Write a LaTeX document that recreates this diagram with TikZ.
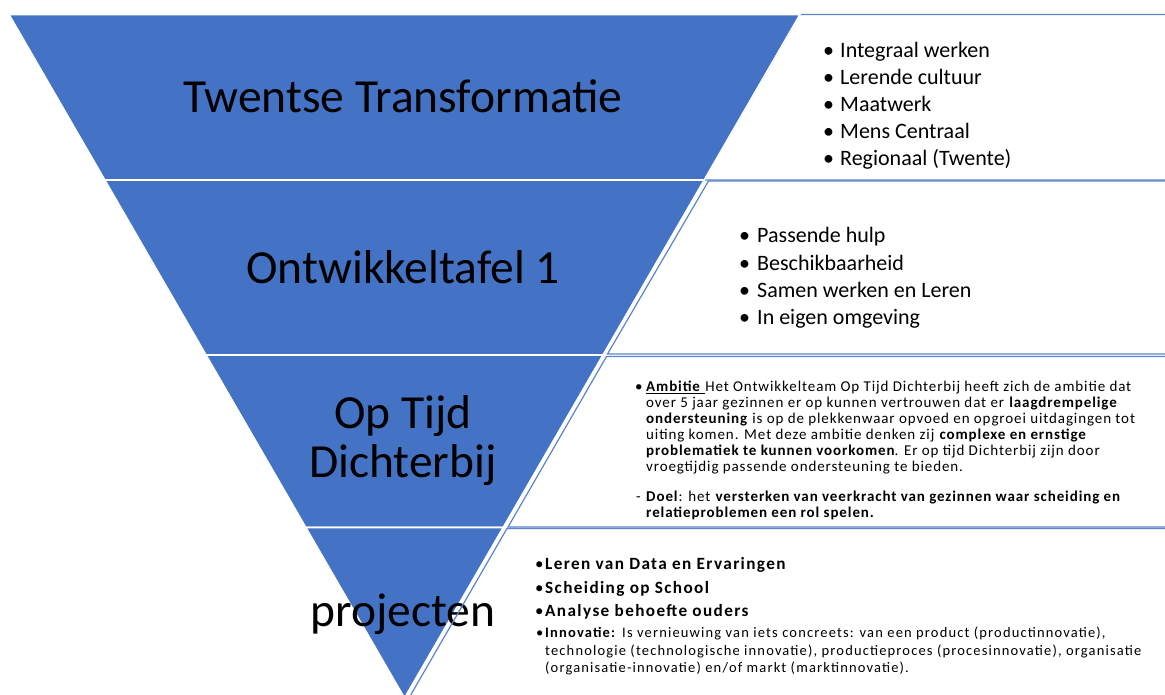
\documentclass[tikz,border=0pt]{standalone}
\usepackage{fontspec}
\setmainfont{Carlito}
\newfontfamily\spacedA[LetterSpace=6]{Carlito}
\newfontfamily\spacedB[LetterSpace=8]{Carlito}
\definecolor{pyrblue}{HTML}{4472C4}
\definecolor{boxblue}{HTML}{5B84CD}
\begin{document}
\begin{tikzpicture}[x=1pt,y=-1pt,
  band/.style={fill=pyrblue, draw=white, line width=1.6pt, line join=miter},
  panelfill/.style={fill=white, draw=none},
  panelline/.style={draw=boxblue, line width=1.2pt},
  biglabel/.style={anchor=base, inner sep=0pt, font=\fontsize{47.5}{49}\selectfont, text=black},
  itemA/.style={anchor=base west, inner sep=0pt, font=\fontsize{22}{27}\selectfont},
  itemC/.style={anchor=base west, inner sep=0pt, font=\spacedA\fontsize{15}{16}\selectfont},
  itemD/.style={anchor=base west, inner sep=0pt, font=\spacedB\fontsize{17.2}{20}\selectfont\bfseries},
  itemE/.style={anchor=base west, inner sep=0pt, font=\spacedB\fontsize{14.5}{17}\selectfont}
]
\useasboundingbox (0,0) rectangle (1165,695);
\clip (0,0) rectangle (1165,695);
\fill[white] (0,0) rectangle (1165,695);

% text panels (fill)
\path[panelfill] (800,14.5) -- (1175,14.5) -- (1175,180) -- (704,180) -- cycle;
\path[panelfill] (708.5,181) -- (1175,181) -- (1175,354) -- (607.5,354) -- cycle;
\path[panelfill] (606.5,356.5) -- (1175,356.5) -- (1175,527) -- (508,527) -- cycle;
\path[panelfill] (507,528.5) -- (1175,528.5) -- (1175,710) -- (402,710) -- cycle;
% first panel outline lies under the top band's edge
\draw[panelline] (800,14.5) -- (1175,14.5) -- (1175,180) -- (704,180) -- cycle;

% pyramid bands
\draw[band] (9,14.5) -- (800,14.5) -- (704.2,180) -- (104.8,180) -- cycle;
\draw[band] (104.8,180) -- (704.2,180) -- (603.0,355) -- (206.0,355) -- cycle;
\draw[band] (206.0,355) -- (603.0,355) -- (503.2,527.5) -- (305.8,527.5) -- cycle;
\draw[band] (305.8,527.5) -- (503.2,527.5) -- (404.5,698) -- cycle;

% band labels
\node[biglabel] (t1) at (403,112.5) {Twentse Transformatie};
\node[biglabel] (t2) at (403,283.5) {Ontwikkeltafel 1};
\node[biglabel] (t3a) at (403,428.5) {Op Tijd};
\node[biglabel] (t3b) at (403,477.5) {Dichterbij};
\node[biglabel] (t4) at (403,626.5) {projecten};

% panel outlines
\draw[panelline] (801,14.5) -- (1175,14.5);
\draw[panelline] (708.5,181) -- (1175,181) -- (1175,354) -- (607.5,354) -- cycle;
\draw[panelline] (606.5,356.5) -- (1175,356.5) -- (1175,527) -- (508,527) -- cycle;
\draw[panelline] (507,528.5) -- (1175,528.5) -- (1175,710) -- (402,710) -- cycle;

% panel 1
\foreach \t [count=\i] in {Integraal werken, Lerende cultuur, Maatwerk, Mens Centraal, Regionaal (Twente)}{
  \node[itemA] (pa\i) at (840,{57.5+27.1*(\i-1)}) {\t};
  \node[itemA] (ba\i) at (823,{57.5+27.1*(\i-1)}) {\textbullet};
}

% panel 2
\foreach \t [count=\i] in {Passende hulp, Beschikbaarheid, Samen werken en Leren, In eigen omgeving}{
  \node[itemA] (pb\i) at (757,{243+27.1*(\i-1)}) {\t};
  \node[itemA] (bb\i) at (739,{243+27.1*(\i-1)}) {\textbullet};
}

% panel 3
\node[itemC] (bc1) at (635,391.5) {\textbullet};
\node[itemC] (pc1) at (646,391.5) {\underline{\textbf{Ambitie} }Het Ontwikkelteam Op Tijd Dichterbij heeft zich de ambitie dat};
\node[itemC] (pc2) at (646,407.5) {over 5 jaar gezinnen er op kunnen vertrouwen dat er \textbf{laagdrempelige}};
\node[itemC] (pc3) at (646,423.5) {\textbf{ondersteuning} is op de plekkenwaar opvoed en opgroei uitdagingen tot};
\node[itemC] (pc4) at (646,439.5) {uiting komen. Met deze ambitie denken zij \textbf{complexe en ernstige}};
\node[itemC] (pc5) at (646,455.5) {\textbf{problematiek te kunnen voorkomen}. Er op tijd Dichterbij zijn door};
\node[itemC] (pc6) at (646,471) {vroegtijdig passende ondersteuning te bieden.};
\node[itemC] (bc7) at (636,501) {-};
\node[itemC] (pc7) at (646,501) {\textbf{Doel}: het \textbf{versterken van veerkracht van gezinnen waar scheiding en}};
\node[itemC] (pc8) at (646,517) {\textbf{relatieproblemen een rol spelen.}};

% panel 4
\foreach \t [count=\i] in {Leren van Data en Ervaringen, Scheiding op School, Analyse behoefte ouders}{
  \node[itemD] (pd\i) at (545,{569.5+23.5*(\i-1)}) {\t};
  \node[itemD,font=\fontsize{17}{20}\selectfont] (bd\i) at (535,{569.5+23.5*(\i-1)}) {\textbullet};
}
\node[itemE] (bd4) at (536,637.5) {\textbullet};
\node[itemE] (pd4) at (545,637.5) {\textbf{Innovatie:} Is vernieuwing van iets concreets: van een product (productinnovatie),};
\node[itemE] (pd5) at (545,655) {technologie (technologische innovatie), productieproces (procesinnovatie), organisatie};
\node[itemE] (pd6) at (545,672) {(organisatie-innovatie) en/of markt (marktinnovatie).};
\end{tikzpicture}
\end{document}
